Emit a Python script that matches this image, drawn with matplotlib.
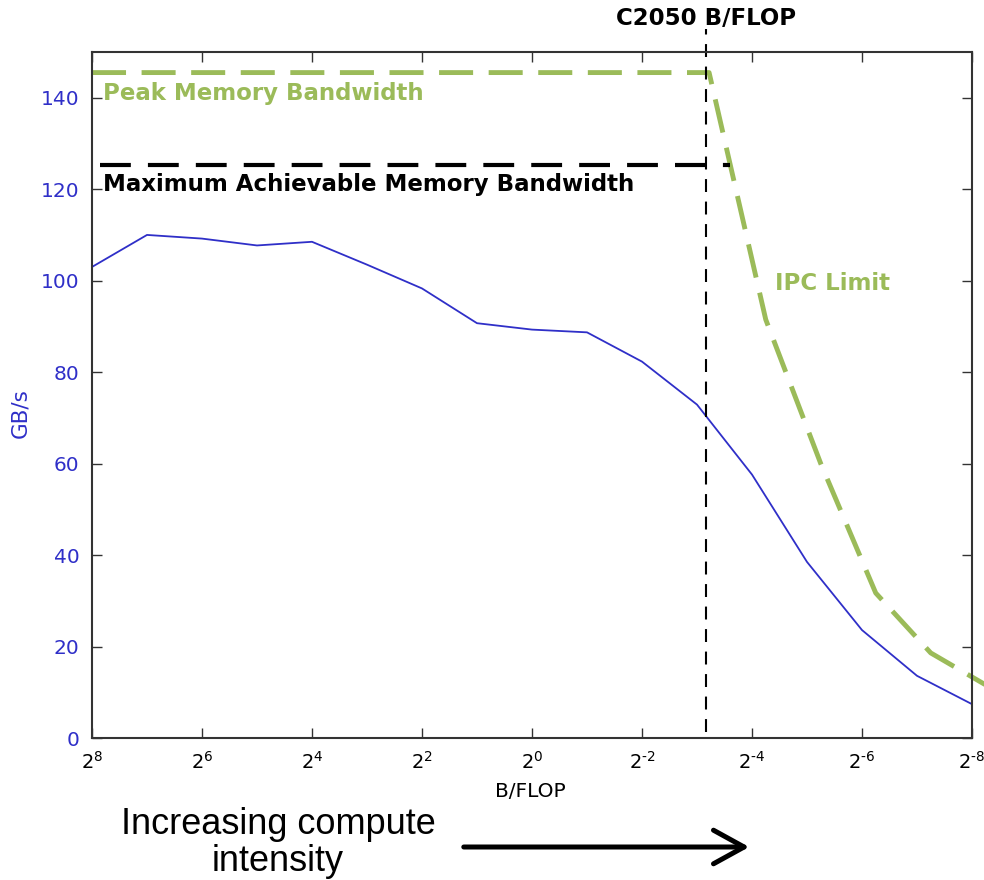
import numpy as np
import matplotlib
matplotlib.use("Agg")
import matplotlib.pyplot as plt
from matplotlib.ticker import FixedLocator, NullLocator

plt.rcParams["axes.unicode_minus"] = False

# measured bandwidth (blue), x given as log2(B/FLOP)
meas_exp = [8, 7, 6, 5, 4, 3, 2, 1, 0, -1, -2, -3, -4, -5, -6, -7, -8]
meas_gbs = [103.0, 110.0, 109.2, 107.7, 108.5, 103.5, 98.3, 90.7, 89.3,
            88.7, 82.3, 72.9, 57.6, 38.5, 23.6, 13.6, 7.4]

# peak memory bandwidth + IPC limit (green)
ipc_exp = [8, -3.22, -4.25, -5.25, -6.25, -7.25, -8.25]
ipc_gbs = [145.5, 145.5, 91.5, 60.0, 31.7, 18.6, 11.6]

# maximum achievable bandwidth (black dashed)
max_exp = [7.85, -3.6]
max_gbs = [125.4, 125.4]

c2050_exp = -3.16
tick_exp = [8, 6, 4, 2, 0, -2, -4, -6, -8]
yticks = [0, 20, 40, 60, 80, 100, 120, 140]

GREEN = "#9bbb59"
BLUE = "#2f2fc8"

fig = plt.figure(figsize=(9.84, 8.8), dpi=100)
ax = fig.add_axes([92/984, 142/880, 880/984, 686/880])

ax.set_xscale("log", base=2)
ax.plot(2.0 ** np.array(meas_exp), meas_gbs, color=BLUE, lw=1.3)
ax.plot(2.0 ** np.array(ipc_exp), ipc_gbs, color=GREEN, lw=3.5,
        linestyle=(0, (7.0, 3.2)), clip_on=False)
ax.plot(2.0 ** np.array(max_exp), max_gbs, color="black", lw=3.0,
        linestyle=(0, (7.4, 4.1)))
ax.plot([2.0 ** c2050_exp] * 2, [1.3, 155.0], color="black", lw=1.5,
        linestyle=(0, (6.2, 4.6)), clip_on=False)

ax.set_xlim(2.0 ** 8, 2.0 ** -8)
ax.set_ylim(0, 150)

ax.xaxis.set_major_locator(FixedLocator([2.0 ** e for e in tick_exp]))
ax.xaxis.set_minor_locator(NullLocator())
ax.set_xticklabels([r"$2^{\text{%d}}$" % e for e in tick_exp])
ax.set_yticks(yticks)
ax.set_yticklabels([str(v) for v in yticks])

ax.tick_params(direction="in", length=7, width=1, top=True, right=True,
               labelsize=14.5, pad=9, color="#333333")
ax.tick_params(axis="x", labelsize=14)
ax.tick_params(axis="y", labelcolor=BLUE)
for s in ax.spines.values():
    s.set_linewidth(1.5)
    s.set_color("#333333")

ax.set_xlabel("B/FLOP", fontsize=14.5)
ax.set_ylabel("GB/s", fontsize=15.5, color=BLUE)
ax.xaxis.set_label_coords(0.498, -0.064)
ax.yaxis.set_label_coords(-0.0705, 0.474)

bold = dict(fontsize=16.5, fontweight="bold", family="DejaVu Sans")
ax.text(2.0 ** 7.8, 141.0, "Peak Memory Bandwidth", color=GREEN,
        ha="left", va="center", **bold)
ax.text(2.0 ** 7.8, 121.0, "Maximum Achievable Memory Bandwidth",
        color="black", ha="left", va="center", **bold)
ax.text(2.0 ** -4.42, 99.4, "IPC Limit", color=GREEN,
        ha="left", va="center", **bold)
ax.text(2.0 ** c2050_exp, 157.4, "C2050 B/FLOP", color="black",
        ha="center", va="center", clip_on=False, **bold)

fig.text(278/984, 1 - 843/880, "Increasing compute\nintensity",
         ha="center", va="center", fontsize=26, family="Liberation Sans",
         linespacing=1.1)
fig.add_artist(matplotlib.patches.FancyArrowPatch(
    (461/984, 1 - 847/880), (752/984, 1 - 847/880),
    transform=fig.transFigure, arrowstyle="->,head_length=1.0,head_width=0.55",
    mutation_scale=22, lw=3.6, color="black"))

fig.savefig("out.png", dpi=100)
